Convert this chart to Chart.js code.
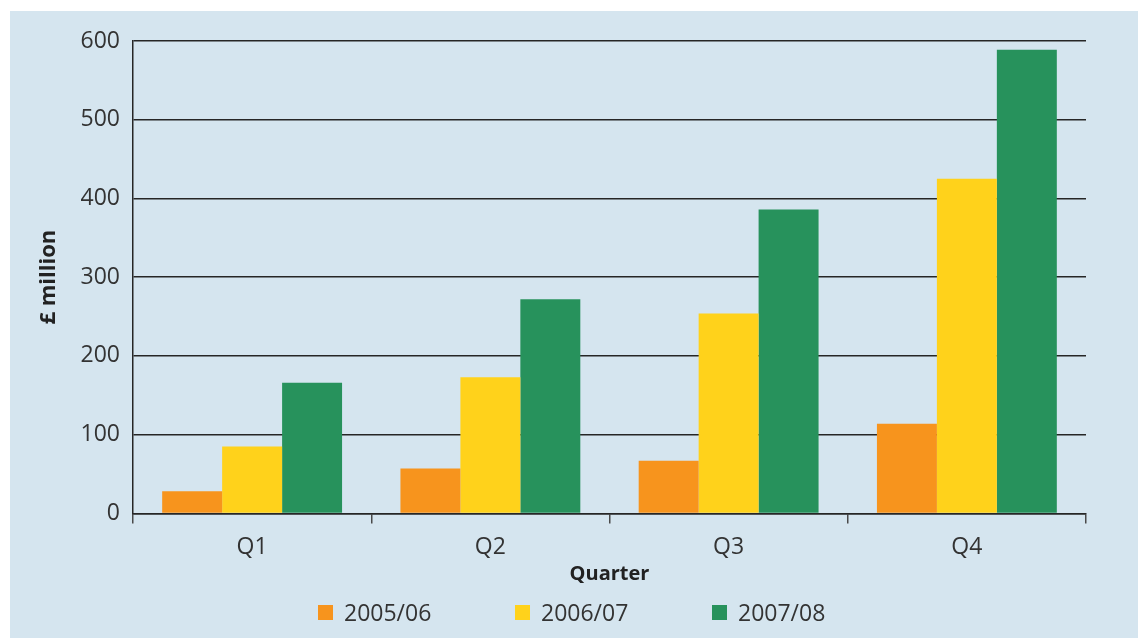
<!DOCTYPE html>
<html lang="en">
<head>
<meta charset="utf-8">
<title>£ million by quarter</title>
<script src="https://cdn.jsdelivr.net/npm/chart.js@4.4.1/dist/chart.umd.min.js"></script>
<style>
  html, body { margin: 0; padding: 0; background: #ffffff; }
  body { width: 1138px; height: 638px; position: relative; overflow: hidden; font-family: "Open Sans", sans-serif; }
  .panel { position: absolute; left: 10px; top: 11px; width: 1128px; height: 627px; background: #d5e5ef; }
  .chart-box { position: absolute; left: 0; top: 0; width: 1128px; height: 591px; }
  .legend { position: absolute; left: 308px; top: 579px; display: flex; color: #333333; font-size: 23px; }
  .legend-item { width: 197px; display: flex; align-items: center; height: 44px; }
  .legend-box { width: 15px; height: 15px; margin-right: 11px; }
</style>
</head>
<body>
<div class="panel">
  <div class="chart-box"><canvas id="graficoTrimestres" width="1128" height="591"></canvas></div>
  <div class="legend" id="leyenda"></div>
</div>
<script>
// --- DATOS ---
const quarters = ["Q1", "Q2", "Q3", "Q4"];
const years = ["2005/06", "2006/07", "2007/08"];
const values0506 = [28, 57, 67, 114];
const values0607 = [85, 173, 254, 425];
const values0708 = [166, 272, 386, 589];
const yTicks = [0, 100, 200, 300, 400, 500, 600];

const colors = ["#f7941d", "#ffd21b", "#27925c"];
const lineColor = "#262626";
const textColor = "#333333";

document.addEventListener("DOMContentLoaded", function () {
  const series = [values0506, values0607, values0708];

  // --- GRÁFICO ---
  const ctx = document.getElementById("graficoTrimestres").getContext("2d");
  const grafico = new Chart(ctx, {
    type: "bar",
    data: {
      labels: quarters,
      datasets: series.map((data, i) => ({
        label: years[i],
        data: data,
        backgroundColor: colors[i],
        borderWidth: 0,
        barPercentage: 1,
        categoryPercentage: 0.755,
      })),
    },
    options: {
      responsive: false,
      animation: false,
      devicePixelRatio: 1,
      layout: { padding: { top: 30, right: 52, left: 0, bottom: 0 } },
      plugins: {
        legend: { display: false },
        tooltip: { enabled: false },
      },
      scales: {
        x: {
          grid: {
            offset: true,
            // only the right frame line runs through the plot, the rest are tick marks
            color: (c) => (c.index === quarters.length ? lineColor : "transparent"),
            tickColor: "#4a4a4a",
            tickLength: 10,
            lineWidth: 1.5,
            tickWidth: 1.5,
          },
          border: { color: lineColor, width: 1.5 },
          ticks: {
            color: textColor,
            padding: 10,
            font: { family: "Open Sans", size: 23 },
          },
          title: {
            display: true,
            text: "Quarter",
            color: "#222222",
            font: { family: "Open Sans", size: 20, weight: "bold" },
            padding: { top: -9, bottom: 16 },
          },
        },
        y: {
          min: 0,
          max: 600,
          afterFit: (scale) => { scale.width = 123; },
          afterBuildTicks: (scale) => { scale.ticks = yTicks.map((v) => ({ value: v })); },
          grid: {
            color: lineColor,
            lineWidth: 1.5,
            drawTicks: false,
          },
          border: { color: lineColor, width: 1.5 },
          ticks: {
            color: textColor,
            padding: 13,
            font: { family: "Open Sans", size: 23 },
          },
          title: {
            display: true,
            text: "£ million",
            color: "#222222",
            font: { family: "Open Sans", size: 22, weight: "bold" },
            padding: { top: 26, bottom: 0 },
          },
        },
      },
    },
  });

  // --- LEYENDA ---
  const leyenda = document.getElementById("leyenda");
  grafico.data.datasets.forEach((ds) => {
    leyenda.innerHTML += `
      <div class="legend-item">
        <span class="legend-box" style="background:${ds.backgroundColor}"></span>
        <span>${ds.label}</span>
      </div>`;
  });
});
</script>
</body>
</html>
